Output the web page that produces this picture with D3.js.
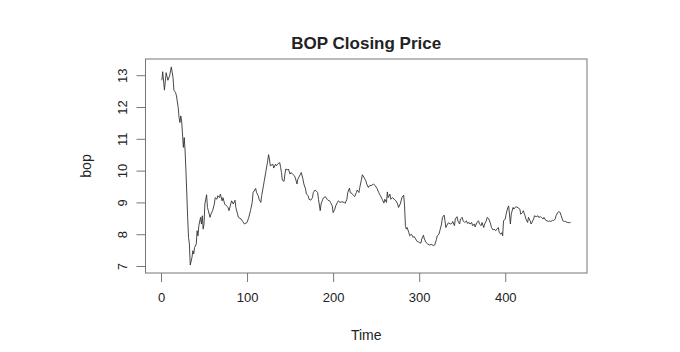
<!DOCTYPE html>
<html>
<head>
<meta charset="utf-8">
<script src="https://cdn.jsdelivr.net/npm/d3@7"></script>
<style>
  body { margin: 0; background: #fff; }
  text { font-family: "Liberation Sans", Arial, sans-serif; fill: #222; }
</style>
</head>
<body>
<div id="chart"></div>
<script>
// Time index and closing price
const times = [1,2,4,6,8,10,12,14,15,17,18,20,21,22,23,24,25,26,27,28,29,30,31,32,33,34,36,37,38,39,
  41,42,43,44,46,47,48,49,50,51,53,54,55,57,58,60,62,63,65,66,68,69,71,72,74,76,78,79,82,84,
  86,87,89,90,93,95,97,100,102,104,106,107,110,111,113,114,116,117,119,120,122,124,125,126,127,130,131,133,134,136,
  138,139,140,141,143,144,145,147,148,150,151,153,155,156,158,159,162,163,165,166,168,169,171,172,174,176,177,179,180,182,
  183,185,186,188,189,191,193,194,196,197,199,200,202,203,205,206,208,210,213,214,216,217,219,220,222,224,225,227,228,230,
  231,233,234,236,238,239,241,242,245,247,249,251,253,255,257,259,260,262,263,264,266,267,269,271,273,275,276,278,280,282,
  283,284,285,286,288,289,291,293,294,296,297,299,300,302,303,305,306,308,310,312,314,317,318,320,321,323,324,326,327,329,
  330,331,333,334,336,338,339,341,342,344,345,347,348,350,351,353,355,356,358,359,361,362,364,365,367,369,370,372,373,375,
  376,378,379,381,383,384,386,387,389,390,392,393,395,396,397,398,400,401,403,404,406,407,409,410,412,413,415,417,418,420,
  421,423,424,426,427,429,430,431,433,434,436,438,439,441,442,444,445,447,450,451,453,455,456,458,459,461,462,464,465,467,
  469,470,472,473,475,476];
const bop = [12.84,13.11,12.53,13.08,12.84,12.98,13.26,12.92,12.53,12.45,12.35,11.98,11.67,11.51,11.72,11.56,11.15,10.73,11.04,10.62,
  9.99,9.26,8.53,7.90,7.69,7.03,7.27,7.48,7.38,7.58,7.69,8.11,7.95,8.27,8.53,8.32,8.58,8.16,8.32,8.95,
  9.24,8.84,8.74,8.53,8.63,8.74,8.95,9.15,9.10,9.21,9.15,9.26,9.05,9.15,8.95,8.89,8.84,8.74,9.05,8.95,
  9.07,8.84,8.63,8.53,8.48,8.40,8.32,8.37,8.53,8.74,9.00,9.31,9.44,9.31,9.21,9.10,9.00,9.21,9.52,9.68,
  9.99,10.31,10.50,10.36,10.15,10.20,10.08,10.20,10.15,10.22,10.25,10.10,9.94,9.70,9.66,9.89,10.05,10.02,10.05,9.89,
  9.94,9.89,9.84,9.78,9.58,9.73,9.89,9.94,9.73,9.58,9.42,9.26,9.21,9.10,9.07,9.15,9.31,9.39,9.37,9.31,
  9.10,8.74,8.95,9.10,9.15,9.18,9.10,9.07,9.05,9.00,8.89,8.68,8.79,8.89,9.00,9.05,9.00,9.02,9.00,8.97,
  9.10,9.31,9.45,9.31,9.28,9.21,9.18,9.31,9.39,9.31,9.47,9.73,9.87,9.78,9.68,9.58,9.47,9.52,9.54,9.58,
  9.52,9.44,9.31,9.21,9.10,8.98,9.10,9.00,9.33,9.15,9.26,9.10,9.15,9.10,9.05,8.95,8.84,8.95,9.15,9.23,
  8.89,8.27,8.16,8.21,8.05,7.95,8.00,7.90,7.93,7.85,7.79,7.76,7.74,7.72,7.85,7.97,7.85,7.74,7.69,7.66,
  7.68,7.64,7.66,7.83,7.95,8.00,8.11,8.32,8.53,8.60,8.42,8.21,8.32,8.36,8.32,8.34,8.40,8.27,8.48,8.55,
  8.42,8.32,8.48,8.53,8.42,8.37,8.42,8.34,8.37,8.32,8.37,8.27,8.32,8.23,8.37,8.42,8.32,8.27,8.37,8.21,
  8.32,8.42,8.53,8.48,8.32,8.21,8.13,8.16,8.11,8.16,8.21,8.05,8.00,8.05,7.95,8.42,8.48,8.63,8.84,8.89,
  8.32,8.63,8.84,8.79,8.86,8.86,8.83,8.79,8.63,8.68,8.74,8.58,8.48,8.37,8.53,8.42,8.32,8.37,8.48,8.58,
  8.55,8.58,8.53,8.55,8.53,8.48,8.53,8.44,8.40,8.42,8.40,8.44,8.42,8.48,8.58,8.68,8.71,8.68,8.58,8.42,
  8.40,8.40,8.37,8.37,8.36,8.38];
const xTicks = [0, 100, 200, 300, 400];
const yTicks = [7, 8, 9, 10, 11, 12, 13];

const data = times.map((t, i) => ({t: t, v: bop[i]}));

const W = 680, H = 352;
const margin = {top: 59, right: 93, bottom: 79, left: 145.5};
const width = W - margin.left - margin.right,
      height = H - margin.top - margin.bottom;

const svg = d3.select("#chart").append("svg")
    .attr("width", W)
    .attr("height", H);

const g = svg.append("g")
    .attr("transform", `translate(${margin.left},${margin.top})`);

// R style 4% padding around data range
function padded(ext) {
    const d = (ext[1] - ext[0]) * 0.04;
    return [ext[0] - d, ext[1] + d];
}

const x = d3.scaleLinear()
    .domain(padded(d3.extent(times)))
    .range([0, width]);

const y = d3.scaleLinear()
    .domain(padded(d3.extent(bop)))
    .range([height, 0]);

// series
const line = d3.line()
    .x(d => x(d.t))
    .y(d => y(d.v));

g.append("path")
    .datum(data)
    .attr("fill", "none")
    .attr("stroke", "#333")
    .attr("stroke-width", 0.9)
    .attr("stroke-linejoin", "round")
    .attr("d", line);

// box
g.append("rect")
    .attr("x", 0).attr("y", 0)
    .attr("width", width).attr("height", height)
    .attr("fill", "none")
    .attr("stroke", "#777")
    .attr("stroke-width", 1);

// x axis
const xAxis = g.append("g")
    .attr("transform", `translate(0,${height})`)
    .call(d3.axisBottom(x).tickValues(xTicks).tickSize(9).tickPadding(11).tickSizeOuter(0));
xAxis.select(".domain").remove();
xAxis.selectAll("line").attr("stroke", "#777");
xAxis.selectAll("text")
    .style("font-size", "13px")
    .attr("fill", "#222");

// y axis, labels rotated like base R
const yAxis = g.append("g")
    .call(d3.axisLeft(y).tickValues(yTicks).tickFormat(d3.format("d")).tickSize(9).tickSizeOuter(0));
yAxis.select(".domain").remove();
yAxis.selectAll("line").attr("stroke", "#777");
yAxis.selectAll("text")
    .attr("x", null)
    .attr("dy", null)
    .attr("text-anchor", "middle")
    .attr("transform", "translate(-19,0) rotate(-90)")
    .style("font-size", "13px")
    .attr("fill", "#222");

// titles
svg.append("text")
    .attr("x", margin.left + width / 2)
    .attr("y", 49)
    .attr("text-anchor", "middle")
    .style("font-size", "17px")
    .style("font-weight", "bold")
    .text("BOP Closing Price");

svg.append("text")
    .attr("x", margin.left + width / 2)
    .attr("y", 340)
    .attr("text-anchor", "middle")
    .style("font-size", "14px")
    .text("Time");

svg.append("text")
    .attr("transform", `translate(90.5,${margin.top + height / 2}) rotate(-90)`)
    .attr("text-anchor", "middle")
    .style("font-size", "14px")
    .text("bop");
</script>
</body>
</html>
